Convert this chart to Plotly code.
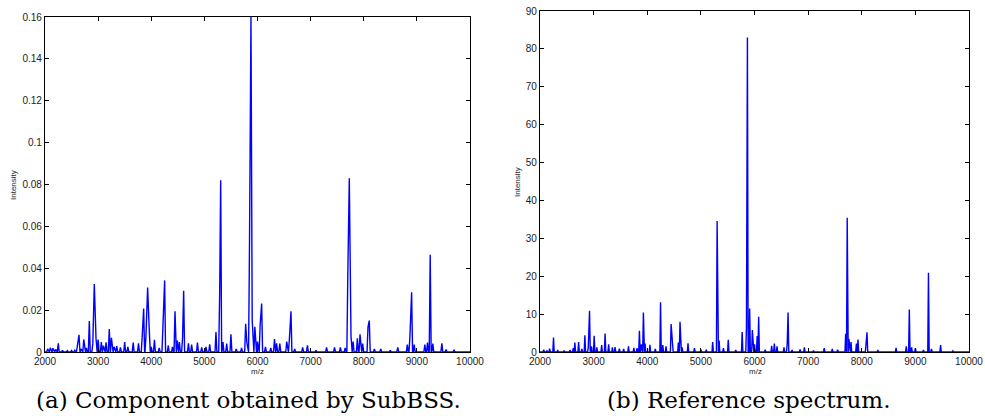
import plotly.graph_objects as go

# ---- data: (a) component obtained by SubBSS ----
a_mz = [2050, 2100, 2150, 2200, 2250, 2330, 2420, 2500, 2560, 2610, 2640, 2680, 2730, 2780,
        2834, 2900, 2928, 2960, 3000, 3060, 3100, 3150, 3210, 3250, 3300, 3350, 3420, 3500,
        3560, 3660, 3760, 3830, 3857, 3900, 3932, 3960, 4000, 4060, 4150, 4220, 4252, 4320,
        4400, 4447, 4490, 4530, 4590, 4610, 4700, 4760, 4870, 4950, 5030, 5100, 5218, 5288,
        5307, 5350, 5420, 5500, 5600, 5700, 5777, 5800, 5850, 5877, 5900, 5950, 6000, 6050,
        6078, 6150, 6250, 6320, 6360, 6420, 6550, 6600, 6630, 6700, 6850, 6940, 7100, 7300,
        7450, 7560, 7650, 7700, 7728, 7760, 7800, 7880, 7930, 7980, 8080, 8104, 8200, 8320,
        8500, 8640, 8820, 8870, 8901, 8950, 9150, 9200, 9251, 9300, 9470, 9550, 9700]
a_int = [0.0015, 0.002, 0.0018, 0.0012, 0.0042, 0.0008, 0.0006, 0.0007, 0.0009, 0.003, 0.0082, 0.0015, 0.006, 0.002,
         0.0148, 0.004, 0.0325, 0.0065, 0.006, 0.0048, 0.003, 0.0046, 0.011, 0.0068, 0.0025, 0.0028, 0.0022, 0.0048,
         0.0025, 0.0045, 0.0042, 0.0075, 0.0208, 0.0075, 0.0308, 0.012, 0.0025, 0.0058, 0.002, 0.012, 0.0342, 0.003,
         0.0025, 0.0195, 0.0055, 0.0048, 0.0072, 0.0292, 0.0042, 0.0035, 0.0045, 0.0022, 0.0025, 0.0036, 0.0095, 0.028,
         0.082, 0.0048, 0.004, 0.0085, 0.0015, 0.002, 0.0135, 0.0045, 0.053, 0.16, 0.0155, 0.012, 0.005, 0.013,
         0.0232, 0.0025, 0.002, 0.0062, 0.0042, 0.004, 0.005, 0.006, 0.0195, 0.0015, 0.0022, 0.0032, 0.0008, 0.0022,
         0.0022, 0.0022, 0.002, 0.037, 0.083, 0.0075, 0.005, 0.0065, 0.0085, 0.004, 0.012, 0.015, 0.0015, 0.0015,
         0.0008, 0.0022, 0.0035, 0.008, 0.0285, 0.0035, 0.0035, 0.0045, 0.0465, 0.004, 0.0042, 0.0012, 0.001]

# ---- data: (b) reference spectrum ----
b_mz = [2070, 2130, 2180, 2252, 2330, 2450, 2560, 2620, 2650, 2720, 2780, 2837, 2900, 2924,
        2960, 3010, 3060, 3150, 3214, 3280, 3350, 3400, 3480, 3560, 3650, 3750, 3810, 3854,
        3890, 3928, 3960, 4050, 4150, 4248, 4290, 4350, 4445, 4470, 4580, 4611, 4650, 4760,
        4880, 5000, 5100, 5220, 5303, 5340, 5420, 5511, 5650, 5770, 5850, 5868, 5910, 5960,
        6000, 6050, 6078, 6200, 6320, 6370, 6420, 6550, 6610, 6626, 6700, 6850, 6930, 7100,
        7300, 7450, 7550, 7700, 7729, 7760, 7800, 7900, 7930, 8080, 8098, 8300, 8640, 8830,
        8887, 8930, 9000, 9150, 9244, 9300, 9470, 9700]
b_int = [0.6, 0.4, 0.9, 3.8, 0.5, 0.4, 0.5, 1.0, 2.5, 2.6, 0.8, 4.4, 1.2, 10.9,
         1.5, 4.3, 1.2, 1.8, 4.9, 2.0, 1.2, 1.3, 0.9, 0.8, 1.5, 1.1, 1.0, 5.6,
         2.0, 10.4, 2.2, 1.9, 0.8, 13.1, 1.8, 1.5, 7.4, 1.5, 2.5, 8.0, 1.2, 2.3,
         1.0, 0.7, 0.6, 2.6, 34.6, 3.0, 1.0, 3.2, 0.5, 5.3, 6.5, 83.0, 11.5, 5.8,
         2.0, 4.2, 9.3, 0.6, 1.6, 2.2, 1.5, 1.2, 2.3, 10.4, 0.5, 0.7, 1.2, 0.4,
         1.0, 0.8, 0.6, 4.8, 35.4, 3.5, 2.6, 2.2, 3.3, 2.0, 5.2, 0.5, 1.1, 1.5,
         11.2, 1.2, 1.0, 0.5, 20.9, 0.8, 1.8, 0.3]

x_ticks = [2000, 3000, 4000, 5000, 6000, 7000, 8000, 9000, 10000]
a_yticks = [0, 0.02, 0.04, 0.06, 0.08, 0.1, 0.12, 0.14, 0.16]
b_yticks = [0, 10, 20, 30, 40, 50, 60, 70, 80, 90]
captions = ["(a) Component obtained by SubBSS.", "(b) Reference spectrum."]


def spectrum_line(mz, inten, half):
    pk = sorted(zip(mz, inten))
    xs, ys = [], []
    for i, (p, h) in enumerate(pk):
        prev_close = i > 0 and pk[i - 1][0] + half > p - half
        next_close = i < len(pk) - 1 and pk[i + 1][0] - half < p + half
        if not prev_close:
            xs.append(p - half); ys.append(0)
        xs.append(p); ys.append(h)
        if not next_close:
            xs.append(p + half); ys.append(0)
    return xs, ys


W, H = 985, 416


def px(x):
    return x / W


def py(y):
    return 1 - y / H


ax_a = dict(x0=45, x1=470, y0=17, y1=352)
ax_b = dict(x0=540, x1=969, y0=11, y1=352)

fig = go.Figure()
xa, ya = spectrum_line(a_mz, a_int, 18)
xb, yb = spectrum_line(b_mz, b_int, 13)
fig.add_trace(go.Scatter(x=[2000] + xa + [10000], y=[0] + ya + [0], mode="lines",
                         line=dict(color="#0000ff", width=1.4), xaxis="x", yaxis="y",
                         showlegend=False, hoverinfo="skip"))
fig.add_trace(go.Scatter(x=[2000] + xb + [10000], y=[0] + yb + [0], mode="lines",
                         line=dict(color="#0000ff", width=1.4), xaxis="x2", yaxis="y2",
                         showlegend=False, hoverinfo="skip"))

tickfont = dict(family="Liberation Sans, Arial, sans-serif", size=10, color="#222")
common = dict(showline=True, mirror="ticks", linecolor="black", linewidth=1.2,
              ticks="inside", ticklen=4, tickcolor="black", showgrid=False,
              zeroline=False, tickfont=tickfont, automargin=False,
              ticklabeloverflow="allow")


def dom(a):
    return [px(a["x0"]), px(a["x1"])], [py(a["y1"]), py(a["y0"])]


dxa, dya = dom(ax_a)
dxb, dyb = dom(ax_b)
fig.update_layout(
    width=W, height=H, margin=dict(l=0, r=0, t=0, b=0, autoexpand=False),
    paper_bgcolor="white", plot_bgcolor="white",
    xaxis=dict(domain=dxa, range=[2000, 10000], tickvals=x_ticks,
               ticktext=[str(v) for v in x_ticks], anchor="y", **common),
    yaxis=dict(domain=dya, range=[0, 0.16], tickvals=a_yticks,
               ticktext=[f"{v:g}" for v in a_yticks], anchor="x", **common),
    xaxis2=dict(domain=dxb, range=[2000, 10000], tickvals=x_ticks,
                ticktext=[str(v) for v in x_ticks], anchor="y2", **common),
    yaxis2=dict(domain=dyb, range=[0, 90], tickvals=b_yticks,
                ticktext=[str(v) for v in b_yticks], anchor="x2", **common),
)

lab = dict(family="Liberation Sans, Arial, sans-serif", size=8, color="#222")
cap = dict(family="DejaVu Serif, Liberation Serif, serif", size=23, color="black")
ann = [
    dict(x=px(13), y=py(185), text="Intensity", textangle=-90, font=lab),
    dict(x=px(517), y=py(182), text="Intensity", textangle=-90, font=lab),
    dict(x=px(257), y=py(371), text="m/z", font=lab),
    dict(x=px(755), y=py(371), text="m/z", font=lab),
    dict(x=px(248), y=py(400), text=captions[0], font=cap),
    dict(x=px(748), y=py(400), text=captions[1], font=cap),
]
for a in ann:
    fig.add_annotation(xref="paper", yref="paper", showarrow=False,
                       xanchor="center", yanchor="middle", **a)

# remove the default 8px page margin so the figure fills the window exactly
fig.write_html("out.html", config={"displayModeBar": False},
               post_script="document.body.style.margin='0';document.body.style.overflow='hidden';")
